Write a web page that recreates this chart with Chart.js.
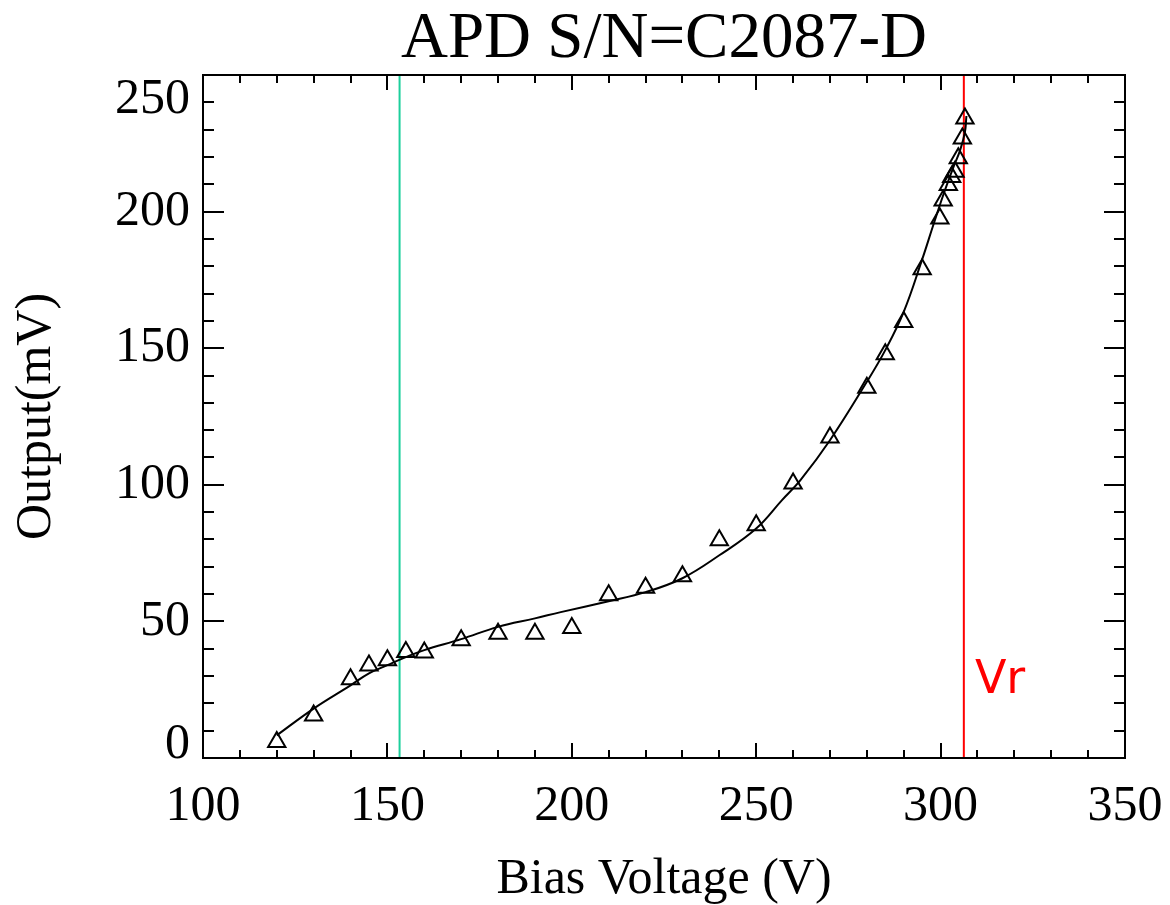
<!DOCTYPE html>
<html>
<head>
<meta charset="utf-8">
<script src="https://cdn.jsdelivr.net/npm/chart.js@4.4.0/dist/chart.umd.min.js"></script>
<style>
  html, body { margin: 0; padding: 0; background: #fff; }
</style>
</head>
<body>
<canvas id="grafico" width="1170" height="905"></canvas>
<script>
// measured points (triangles)
const biasV = [120, 130, 140, 145, 150, 155, 160, 170, 180, 190, 200, 210, 220, 230, 240, 250,
  260, 270, 280, 285, 290, 295, 299.8, 300.7, 302.1, 303.0, 303.9, 304.8, 305.9, 306.6];
const outputMv = [5.9, 15.6, 28.8, 33.9, 35.8, 38.8, 38.6, 43.1, 45.5, 45.5, 47.6, 59.6, 62.3, 66.5, 79.7, 85.2,
  100.5, 117.3, 135.5, 147.8, 159.6, 178.9, 197.5, 204.1, 209.7, 212.7, 214.6, 219.5, 226.8, 234.1];

// fitted curve
const fitV = [120, 130, 140, 145, 150, 155, 160, 170, 180, 190, 197, 210, 220, 230, 240, 250,
  257, 262, 270, 280, 285, 290, 295, 298, 300.7, 303.4, 305.3, 306.6, 307];
const fitMv = [8.3, 18.1, 26.6, 31.0, 34.0, 36.9, 39.5, 43.5, 48.0, 51.1, 53.4, 57.4, 60.7, 65.8, 74.2, 84.0,
  94.4, 101.7, 116.3, 137.7, 149.3, 163.3, 182.5, 195.0, 206.0, 216.0, 222.5, 229.2, 235.0];

// marker lines
const greenV = 153.3;
const redV = 306.3;
const vrLabel = { text: 'Vr', x: 309.3, y: 23.7 };

// axes
const xRange = [100, 350];
const yRange = [0, 250];
const xTickLabels = [100, 150, 200, 250, 300, 350];
const yTickLabels = [0, 50, 100, 150, 200, 250];
const minorStep = 10;

const titleText = 'APD S/N=C2087-D';
const xTitle = 'Bias Voltage (V)';
const yTitle = 'Output(mV)';

const SERIF = '"Liberation Serif", "Times New Roman", serif';

const framePlugin = {
  id: 'frame',
  afterDraw(chart) {
    const { ctx, chartArea: { left, right, top, bottom }, scales: { x, y } } = chart;
    ctx.save();
    ctx.strokeStyle = '#000';
    ctx.lineWidth = 2;
    ctx.strokeRect(left, top, right - left, bottom - top);

    // inward ticks, all four sides
    ctx.beginPath();
    for (let v = xRange[0]; v <= xRange[1]; v += minorStep) {
      const px = Math.round(x.getPixelForValue(v));
      const len = v % 50 === 0 ? 15 : 8;
      ctx.moveTo(px, bottom); ctx.lineTo(px, bottom - len);
      ctx.moveTo(px, top); ctx.lineTo(px, top + len);
    }
    for (let v = yRange[0]; v <= yRange[1]; v += minorStep) {
      const py = Math.round(y.getPixelForValue(v));
      const len = v % 50 === 0 ? 21 : 11;
      ctx.moveTo(left, py); ctx.lineTo(left + len, py);
      ctx.moveTo(right, py); ctx.lineTo(right - len, py);
    }
    ctx.stroke();

    ctx.fillStyle = '#000';
    ctx.font = '50px ' + SERIF;

    // x tick labels
    ctx.textAlign = 'center';
    ctx.textBaseline = 'alphabetic';
    xTickLabels.forEach(v => ctx.fillText(String(v), x.getPixelForValue(v), bottom + 62));

    // y tick labels (edge labels kept inside the frame)
    ctx.textAlign = 'right';
    yTickLabels.forEach(v => {
      let py = y.getPixelForValue(v);
      if (v === yRange[1]) { ctx.textBaseline = 'top'; py = top; }
      else if (v === yRange[0]) { ctx.textBaseline = 'alphabetic'; py = bottom; }
      else ctx.textBaseline = 'middle';
      ctx.fillText(String(v), left - 13, py);
    });

    // axis titles
    ctx.textAlign = 'center';
    ctx.textBaseline = 'alphabetic';
    ctx.fillText(xTitle, (left + right) / 2, 893);
    ctx.save();
    ctx.translate(50, (top + bottom) / 2);
    ctx.rotate(-Math.PI / 2);
    ctx.fillText(yTitle, 0, 0);
    ctx.restore();

    // title
    ctx.font = '65px ' + SERIF;
    ctx.fillText(titleText, (left + right) / 2, 57);

    // Vr label
    ctx.fillStyle = '#ff0000';
    ctx.textAlign = 'left';
    ctx.font = '46px "Comic Sans MS", "DejaVu Sans", sans-serif';
    ctx.fillText(vrLabel.text, x.getPixelForValue(vrLabel.x), y.getPixelForValue(vrLabel.y));
    ctx.restore();
  }
};

new Chart(document.getElementById('grafico').getContext('2d'), {
  type: 'scatter',
  data: {
    datasets: [
      {
        label: 'fit',
        data: fitV.map((v, i) => ({ x: v, y: fitMv[i] })),
        showLine: true,
        borderColor: '#000',
        borderWidth: 2,
        pointRadius: 0,
        tension: 0.4
      },
      {
        label: 'data',
        data: biasV.map((v, i) => ({ x: v, y: outputMv[i] })),
        pointStyle: 'triangle',
        pointRadius: 10,
        backgroundColor: 'rgba(0,0,0,0)',
        pointBackgroundColor: 'rgba(0,0,0,0)',
        borderColor: '#000',
        pointBorderColor: '#000',
        pointBorderWidth: 2
      },
      {
        label: 'green',
        data: [{ x: greenV, y: yRange[0] }, { x: greenV, y: yRange[1] }],
        showLine: true,
        borderColor: '#1ccf9c',
        borderWidth: 2,
        pointRadius: 0
      },
      {
        label: 'Vr',
        data: [{ x: redV, y: yRange[0] }, { x: redV, y: yRange[1] }],
        showLine: true,
        borderColor: '#ff0000',
        borderWidth: 2,
        pointRadius: 0
      }
    ]
  },
  options: {
    responsive: false,
    animation: false,
    devicePixelRatio: 1,
    layout: { padding: { left: 203, right: 45, top: 75, bottom: 147 } },
    scales: {
      x: { type: 'linear', min: xRange[0], max: xRange[1], display: false },
      y: { type: 'linear', min: yRange[0], max: yRange[1], display: false }
    },
    plugins: { legend: { display: false }, tooltip: { enabled: false } }
  },
  plugins: [framePlugin]
});
</script>
</body>
</html>
